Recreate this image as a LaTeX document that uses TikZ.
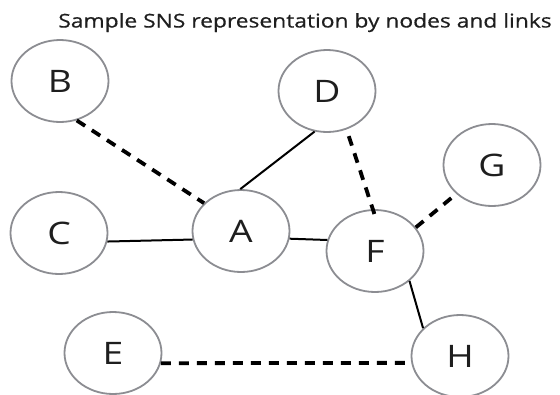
\documentclass[tikz,border=0pt]{standalone}
\usepackage{fontspec}
\setmainfont{Open Sans}
\newfontfamily\headfont[FakeBold=0.5]{Open Sans}
\usetikzlibrary{shapes.geometric}
\definecolor{ringgray}{RGB}{140,141,146}
\definecolor{inkdark}{RGB}{30,30,30}
\tikzset{
  member/.style={ellipse, draw=ringgray, line width=1.8pt, fill=white,
    minimum width=97pt, minimum height=82pt, inner sep=0pt,
    text=inkdark, font=\fontsize{31}{34}\selectfont},
  strong/.style={draw=black, line width=2pt},
  weak/.style={draw=black, line width=3.8pt, dash pattern=on 10pt off 8pt}
}
\newcommand{\wide}[1]{\scalebox{1.2}[1]{#1}}
\begin{document}
\begin{tikzpicture}[x=1pt, y=-1pt]
  \useasboundingbox (0,0) rectangle (560,394);

  % heading
  \node[anchor=base, text=inkdark, inner sep=0pt,
        font=\headfont\fontsize{19}{22}\selectfont] (title) at (305,27.5)
        {\scalebox{1.2}[1]{Sample SNS representation by nodes and links}};

  % members of the network
  \node[member] (B) at (60,81) {\wide{B}};
  \node[member] (D) at (327,91) {\wide{D}};
  \node[member] (G) at (492,165) {\wide{G}};
  \node[member] (C) at (59,233) {\wide{C}};
  \node[member] (A) at (241,231) {\wide{A}};
  \node[member] (F) at (375,251) {\wide{F}};
  \node[member] (E) at (113,353) {\wide{E}};
  \node[member] (H) at (460,356) {\wide{H}};

  % strong (solid) and weak (dashed) ties
  \draw[weak]   (B.-67) -- (A.143);
  \draw[strong] (D.-107) -- (A.91);
  \draw[weak, shorten <=7pt, shorten >=-7pt] (D.-63) -- (F.93);
  \draw[strong] (C.-10) -- (A.190);
  \draw[strong] (A.-9) -- (F.167);
  \draw[weak]   (F.30) -- (G.-141);
  \draw[strong] (F.-41) -- (H.143);
  \draw[weak]   (E.-12) -- (H.188);
\end{tikzpicture}
\end{document}
